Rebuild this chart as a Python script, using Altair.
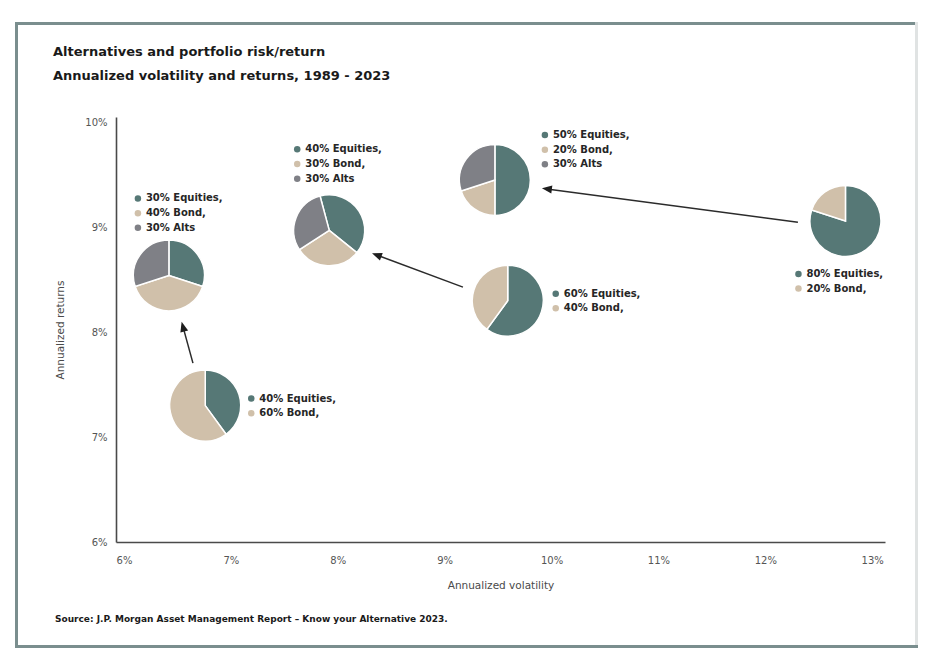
import math
import altair as alt
import pandas as pd

# ---------------- data ----------------
pie_vol = [6.76, 6.42, 7.92, 9.59, 9.47, 12.75]
pie_ret = [7.30, 8.54, 8.97, 8.30, 9.45, 9.06]
equities_pct = [40, 30, 40, 60, 50, 80]
bond_pct = [60, 40, 30, 40, 20, 20]
alts_pct = [0, 30, 30, 0, 30, 0]
component_names = ["Equities", "Bond", "Alts"]
component_label_end = [",", ",", ""]

arrow_from_vol = [6.645, 9.171, 12.305]
arrow_from_ret = [7.705, 8.429, 9.048]
arrow_to_vol = [6.539, 8.320, 9.910]
arrow_to_ret = [8.098, 8.752, 9.371]

x_tick_values = [6, 7, 8, 9, 10, 11, 12, 13]
y_tick_values = [6, 7, 8, 9, 10]

title_lines = ["Alternatives and portfolio risk/return",
               "Annualized volatility and returns, 1989 - 2023"]
x_title = "Annualized volatility"
y_title = "Annualized returns"
source_note = "Source: J.P. Morgan Asset Management Report \u2013 Know your Alternative 2023."

# ---------------- layout / style ----------------
W, H = 769, 425
X_DOM = [5.925, 13.12]
Y_DOM = [6.0, 10.05]
PAD_L, PAD_T, PAD_R, PAD_B = 108, 109, 37, 106
KX = W / (X_DOM[1] - X_DOM[0])
KY = H / (Y_DOM[1] - Y_DOM[0])
PIE_R = 35.5
LABEL_OFFSETS = [(46, -7), (-31, -77), (-32, -81), (48, -7), (50, -45), (-47, 53)]
LINE_H = 14.7
PIE_ROTATION_DEG = [0, 0, -15, 0, 0, 0]
COLORS = ["#567876", "#d0c0aa", "#7f8086"]
FONT = "DejaVu Sans"
ARROW_GAP_PX = 5

# ---------------- tables ----------------
pie_rows, label_rows = [], []
for p in range(len(pie_vol)):
    line = 0
    dx, dy = LABEL_OFFSETS[p]
    for c, pcts in enumerate([equities_pct, bond_pct, alts_pct]):
        v = pcts[p]
        if v <= 0:
            continue
        pie_rows.append({"pie": p, "vol": pie_vol[p], "ret": pie_ret[p],
                         "comp": component_names[c], "idx": c, "pct": v})
        label_rows.append({
            "pie": p,
            "vol": pie_vol[p] + dx / KX,
            "ret": pie_ret[p] - (dy + line * LINE_H) / KY,
            "comp": component_names[c],
            "text": f"{v}% {component_names[c]}{component_label_end[c]}",
        })
        line += 1
pies = pd.DataFrame(pie_rows)
labels = pd.DataFrame(label_rows)

arrow_rows, head_rows = [], []
for fv, fr, tv, tr in zip(arrow_from_vol, arrow_from_ret, arrow_to_vol, arrow_to_ret):
    dxp = (tv - fv) * KX
    dyp = -(tr - fr) * KY
    L = math.hypot(dxp, dyp)
    ang = math.degrees(math.atan2(dxp, -dyp)) % 360
    ex = tv - (dxp / L) * ARROW_GAP_PX / KX
    ey = tr + (dyp / L) * ARROW_GAP_PX / KY
    arrow_rows.append({"vol": fv, "ret": fr, "vol2": ex, "ret2": ey})
    head_rows.append({"vol": tv, "ret": tr, "angle": ang})
arrows = pd.DataFrame(arrow_rows)
heads = pd.DataFrame(head_rows)

# ---------------- encodings ----------------
xs = alt.Scale(domain=X_DOM, nice=False, zero=False)
ys = alt.Scale(domain=Y_DOM, nice=False, zero=False)
color = alt.Color("comp:N", scale=alt.Scale(domain=component_names, range=COLORS), legend=None)

x_axis = alt.Axis(values=x_tick_values, labelExpr="datum.value + '%'", title=x_title,
                  ticks=False, grid=False, domainColor="#4a4a4a", domainWidth=1.6,
                  labelColor="#555555", labelFont=FONT, labelFontSize=10, labelPadding=13,
                  labelFlush=False, titleFont=FONT, titleFontSize=10.5, titleFontWeight="normal",
                  titleColor="#4a4a4a", titlePadding=15)
y_axis = alt.Axis(values=y_tick_values, labelExpr="datum.value + '%'", title=y_title,
                  ticks=False, grid=False, domainColor="#4a4a4a", domainWidth=1.6,
                  labelColor="#555555", labelFont=FONT, labelFontSize=10, labelPadding=9,
                  labelFlush=False, titleFont=FONT, titleFontSize=10.5, titleFontWeight="normal",
                  titleColor="#4a4a4a", titlePadding=19)

X = alt.X("vol:Q", scale=xs, axis=x_axis)
Y = alt.Y("ret:Q", scale=ys, axis=y_axis)

layers = []

# frame
one = pd.DataFrame({"a": [0]})
fx0, fx1 = 15 - 8 - PAD_L, 918 - 8 - PAD_L
fy0, fy1 = 22 - 8 - PAD_T, (PAD_T + H + PAD_B) - PAD_T
for (x0, x1, y0, y1, col) in [
    (fx0, fx1, fy0, fy0 + 3, "#7a8e8e"),
    (fx0, fx0 + 3, fy0, fy1, "#7a8e8e"),
    (fx1 - 3, fx1, fy0, fy1, "#e0e3e3"),
    (fx0, fx1, fy1 - 3, fy1, "#7a8e8e"),
]:
    layers.append(alt.Chart(one).mark_rect(color=col).encode(
        x=alt.value(x0), x2=alt.value(x1), y=alt.value(y0), y2=alt.value(y1)))

# arrows
layers.append(alt.Chart(arrows).mark_rule(color="#2b2b2b", strokeWidth=1.5).encode(
    x=X, y=Y, x2="vol2:Q", y2="ret2:Q"))
layers.append(alt.Chart(heads).mark_point(
    shape="M0,0L0.4,1L-0.4,1Z", filled=True, color="#1e1e1e", size=400, opacity=1).encode(
    x=X, y=Y, angle=alt.Angle("angle:Q", scale=None)))

# pies
for p in range(len(pie_vol)):
    rot = math.radians(PIE_ROTATION_DEG[p])
    d = pies[pies["pie"] == p]
    layers.append(alt.Chart(d).mark_arc(radius=PIE_R, stroke="white", strokeWidth=1.5).encode(
        x=X, y=Y,
        theta=alt.Theta("pct:Q", stack=True,
                        scale=alt.Scale(domain=[0, 100], range=[rot, rot + 2 * math.pi])),
        color=color,
        order=alt.Order("idx:Q")))

# label bullets and text
layers.append(alt.Chart(labels).mark_circle(size=42, opacity=1).encode(x=X, y=Y, color=color))
layers.append(alt.Chart(labels).mark_text(align="left", baseline="middle", dx=8, font=FONT,
                                          fontWeight="bold", fontSize=10, color="#262626").encode(
    x=X, y=Y, text="text:N"))

# titles and source
for i, t in enumerate(title_lines):
    layers.append(alt.Chart(pd.DataFrame({"t": [t]})).mark_text(
        align="left", baseline="middle", font=FONT, fontWeight="bold", fontSize=13,
        color="#1a1a1a").encode(x=alt.value(53 - 8 - PAD_L), y=alt.value(52 + 24 * i - 8 - PAD_T),
                                text="t:N"))
layers.append(alt.Chart(pd.DataFrame({"t": [source_note]})).mark_text(
    align="left", baseline="middle", font=FONT, fontWeight="bold", fontSize=9,
    color="#1a1a1a").encode(x=alt.value(55 - 8 - PAD_L), y=alt.value(619 - 8 - PAD_T), text="t:N"))

chart = alt.layer(*layers).properties(
    width=W, height=H, autosize="none",
    padding={"left": PAD_L, "top": PAD_T, "right": PAD_R, "bottom": PAD_B},
).resolve_scale(theta="independent").configure_view(stroke=None)

chart.save("out.html", embed_options={"renderer": "svg", "actions": False})
